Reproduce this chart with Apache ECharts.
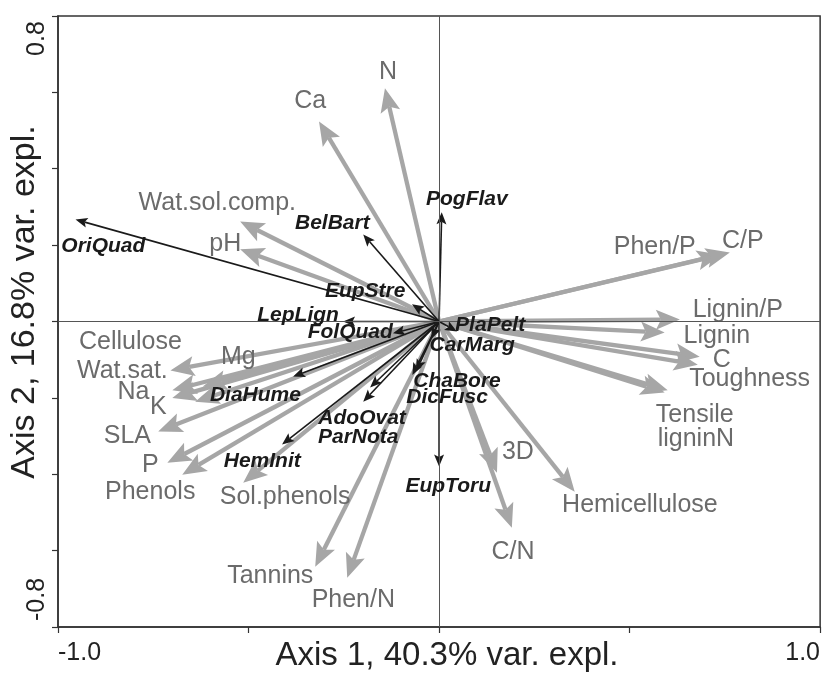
<!DOCTYPE html>
<html>
<head>
<meta charset="utf-8">
<script src="https://cdn.jsdelivr.net/npm/echarts@6/dist/echarts.min.js"></script>
<style>html,body{margin:0;padding:0;background:#fff}#c{width:823px;height:673px}</style>
</head>
<body>
<div id="c"></div>
<script>
// ---- Environmental variables (grey arrows) ----
const envNames = ['Ca','N','Wat.sol.comp.','pH','Phen/P','C/P','Lignin/P','Lignin','C','Toughness','Tensile','ligninN','3D','Hemicellulose','C/N','Phen/N','Tannins','Sol.phenols','Phenols','P','SLA','K','Na','Wat.sat.','Cellulose','Mg'];
const envX = [-0.315,-0.142,-0.522,-0.522,0.740,0.763,0.632,0.592,0.684,0.679,0.592,0.600,0.152,0.356,0.191,-0.241,-0.325,-0.514,-0.674,-0.713,-0.737,-0.640,-0.700,-0.700,-0.705,-0.620];
const envY = [0.524,0.611,0.262,0.189,0.175,0.181,0.005,-0.029,-0.092,-0.113,-0.186,-0.180,-0.396,-0.446,-0.540,-0.671,-0.642,-0.422,-0.401,-0.370,-0.288,-0.210,-0.200,-0.180,-0.128,-0.170];
const envLabelX = [-0.338,-0.134,-0.582,-0.561,0.566,0.797,0.784,0.729,0.742,0.815,0.671,0.674,0.207,0.527,0.194,-0.225,-0.443,-0.404,-0.758,-0.758,-0.818,-0.737,-0.802,-0.831,-0.810,-0.527];
const envLabelY = [0.577,0.653,0.309,0.202,0.194,0.210,0.031,-0.039,-0.100,-0.152,-0.244,-0.307,-0.341,-0.480,-0.603,-0.729,-0.668,-0.459,-0.446,-0.375,-0.301,-0.223,-0.186,-0.131,-0.055,-0.092];

// ---- Species (black arrows) ----
const spNames = ['OriQuad','PogFlav','BelBart','EupStre','LepLign','FolQuad','PlaPelt','CarMarg','DiaHume','ChaBore','DicFusc','AdoOvat','ParNota','HemInit','EupToru'];
const spX = [-0.954,0.007,-0.199,-0.071,-0.252,-0.121,0.047,-0.020,-0.383,-0.060,-0.070,-0.181,-0.199,-0.412,0.000];
const spY = [0.267,0.286,0.228,0.045,0.000,-0.031,-0.026,-0.045,-0.144,-0.130,-0.140,-0.173,-0.210,-0.322,-0.380];
const spLabelX = [-0.881,0.073,-0.280,-0.194,-0.370,-0.233,0.134,0.087,-0.482,0.047,0.021,-0.202,-0.212,-0.464,0.024];
const spLabelY = [0.197,0.320,0.257,0.079,0.016,-0.029,-0.010,-0.063,-0.194,-0.157,-0.199,-0.252,-0.304,-0.367,-0.432];

// ---- Axes ----
const xTickLabels = ['-1.0','1.0'];
const yTickLabels = ['-0.8','0.8'];
const xTitle = 'Axis 1, 40.3% var. expl.';
const yTitle = 'Axis 2, 16.8% var. expl.';

const GREY = '#a6a6a6', GREY_TXT = '#6b6b6b', BLACK = '#1a1a1a';
const FONT = '"Liberation Sans", Arial, Helvetica, sans-serif';

function arrowItem(cfg) {
  return function (params, api) {
    const o = api.coord([0, 0]);
    const t = api.coord([api.value(0), api.value(1)]);
    const dx = t[0] - o[0], dy = t[1] - o[1];
    const len = Math.hypot(dx, dy) || 1;
    const ux = dx / len, uy = dy / len, px = -uy, py = ux;
    const bx = t[0] - ux * cfg.head, by = t[1] - uy * cfg.head;
    const nx = t[0] - ux * (cfg.head - cfg.notch), ny = t[1] - uy * (cfg.head - cfg.notch);
    return {
      type: 'group',
      children: [
        { type: 'line', shape: { x1: o[0], y1: o[1], x2: nx, y2: ny },
          style: { stroke: cfg.color, lineWidth: cfg.width } },
        { type: 'polygon', shape: { points: [[t[0], t[1]], [bx + px * cfg.half, by + py * cfg.half], [nx, ny], [bx - px * cfg.half, by - py * cfg.half]] },
          style: { fill: cfg.color } }
      ]
    };
  };
}

function labelItem(names, cfg) {
  return function (params, api) {
    const p = api.coord([api.value(0), api.value(1)]);
    return {
      type: 'text', x: p[0], y: p[1],
      style: { text: names[params.dataIndex], fill: cfg.color, font: cfg.font, align: 'center', verticalAlign: 'middle' }
    };
  };
}

const chart = echarts.init(document.getElementById('c'));
chart.setOption({
  animation: false,
  backgroundColor: '#fff',
  grid: { left: 58, top: 16, width: 763, height: 611, show: true, borderColor: '#333', borderWidth: 1.5, backgroundColor: 'transparent' },
  xAxis: {
    type: 'value', min: -1, max: 1, interval: 0.5,
    axisLine: { show: true, onZero: false, lineStyle: { color: '#333', width: 1.5 } },
    axisTick: { show: true, inside: false, length: 6, lineStyle: { color: '#333', width: 1.2 } },
    splitLine: { show: false },
    axisLabel: {
      margin: 14, color: '#222', fontFamily: FONT, fontSize: 25,
      formatter: function (v) {
        if (Math.abs(v + 1) < 1e-9) return '{mn|' + xTickLabels[0] + '}';
        if (Math.abs(v - 1) < 1e-9) return '{mx|' + xTickLabels[1] + '}';
        return '';
      },
      rich: {
        mn: { fontSize: 25, fontFamily: FONT, color: '#222', padding: [0, 0, 0, 43] },
        mx: { fontSize: 25, fontFamily: FONT, color: '#222', padding: [0, 35, 0, 0] }
      }
    }
  },
  yAxis: {
    type: 'value', min: -0.8, max: 0.8, interval: 0.2,
    axisLine: { show: true, onZero: false, lineStyle: { color: '#333', width: 1.5 } },
    axisTick: { show: true, inside: false, length: 6, lineStyle: { color: '#333', width: 1.2 } },
    splitLine: { show: false },
    axisLabel: {
      rotate: 90, margin: 8, color: '#222', fontFamily: FONT, fontSize: 25,
      formatter: function (v) {
        if (Math.abs(v + 0.8) < 1e-9) return '{mn|' + yTickLabels[0] + '}';
        if (Math.abs(v - 0.8) < 1e-9) return '{mx|' + yTickLabels[1] + '}';
        return '';
      },
      rich: {
        mn: { fontSize: 25, fontFamily: FONT, color: '#222', padding: [0, 0, 0, 55] },
        mx: { fontSize: 25, fontFamily: FONT, color: '#222', padding: [0, 45, 0, 0] }
      }
    }
  },
  graphic: [
    { type: 'text', x: 447, y: 656, style: { text: xTitle, font: '33px ' + FONT, fill: '#222', align: 'center', verticalAlign: 'middle' } },
    { type: 'text', x: 25, y: 302, rotation: Math.PI / 2, style: { text: yTitle, font: '34px ' + FONT, fill: '#222', align: 'center', verticalAlign: 'middle' } }
  ],
  series: [
    {
      type: 'line', data: [], z: 1, silent: true,
      markLine: { silent: true, symbol: 'none', label: { show: false },
        lineStyle: { color: '#555', width: 1, type: 'solid' },
        data: [{ xAxis: 0 }, { yAxis: 0 }] }
    },
    {
      type: 'custom', z: 2, silent: true,
      renderItem: arrowItem({ color: GREY, width: 4.3, head: 24, half: 10, notch: 5 }),
      data: envX.map((x, i) => [x, envY[i]])
    },
    {
      type: 'custom', z: 3, silent: true,
      renderItem: arrowItem({ color: BLACK, width: 1.6, head: 12, half: 5, notch: 2.5 }),
      data: spX.map((x, i) => [x, spY[i]])
    },
    {
      type: 'custom', z: 4, silent: true,
      renderItem: labelItem(envNames, { color: GREY_TXT, font: '25px ' + FONT }),
      data: envLabelX.map((x, i) => [x, envLabelY[i]])
    },
    {
      type: 'custom', z: 5, silent: true,
      renderItem: labelItem(spNames, { color: BLACK, font: 'italic bold 21px ' + FONT }),
      data: spLabelX.map((x, i) => [x, spLabelY[i]])
    }
  ]
});
</script>
</body>
</html>
